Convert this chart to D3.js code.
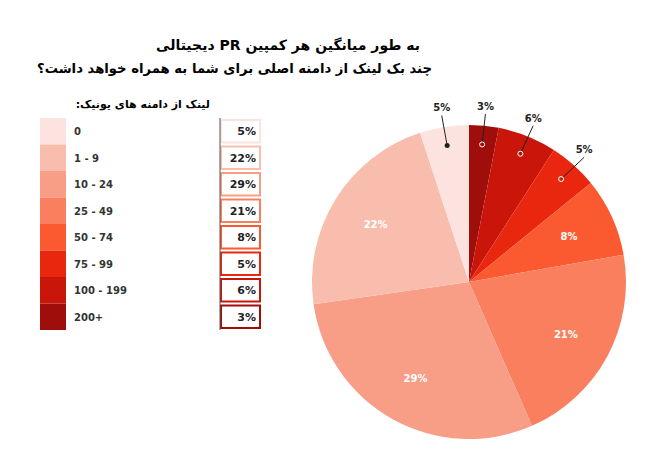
<!DOCTYPE html>
<html><head><meta charset="utf-8">
<script src="https://cdn.jsdelivr.net/npm/d3@7"></script>
<style>body{margin:0;background:#fff}text{font-family:"DejaVu Sans",sans-serif}</style>
</head><body><svg id="c" width="664" height="472"></svg>
<script>
var categories = ['0', '1 - 9', '10 - 24', '25 - 49', '50 - 74', '75 - 99', '100 - 199', '200+'];
var values = [5, 22, 29, 21, 8, 5, 6, 3];
var colors = ['#fce3df', '#f9bdae', '#f89d86', '#fa7f5f', '#fb5a31', '#e9270f', '#c9150a', '#a00e0b'];
var pieOrder = [7, 6, 5, 4, 3, 2, 1, 0];
var outside = [7, 6, 5, 0];

var svg = d3.select('#c');
// rtl text: anchor 'start' sits at the right edge
svg.append('text').attr('x', 420).attr('y', 50).attr('direction', 'rtl').attr('text-anchor', 'start')
  .attr('font-size', 14).attr('font-weight', 'bold').text('به طور میانگین هر کمپین PR دیجیتالی');
svg.append('text').attr('x', 432).attr('y', 73).attr('direction', 'rtl').attr('text-anchor', 'start')
  .attr('font-size', 13.5).attr('font-weight', 'bold').attr('textLength', 395).attr('lengthAdjust', 'spacingAndGlyphs')
  .text('چند بک لینک از دامنه اصلی برای شما به همراه خواهد داشت؟');

// legend
var y = d3.scaleBand().domain(d3.range(categories.length)).range([118, 330]).padding(0);
svg.append('text').attr('x', 210).attr('y', 108).attr('direction', 'rtl').attr('text-anchor', 'start')
  .attr('font-size', 11).attr('font-weight', 'bold').text('لینک از دامنه های یونیک:');
var rows = svg.selectAll('g.row').data(categories).enter().append('g')
  .attr('transform', function (d, i) { return 'translate(0,' + y(i) + ')'; });
rows.append('rect').attr('x', 40).attr('width', 26).attr('height', y.bandwidth())
  .attr('fill', function (d, i) { return colors[i]; });
rows.append('text').attr('x', 74).attr('y', y.bandwidth() / 2 + 4).attr('font-size', 10)
  .attr('font-weight', 'bold').attr('fill', '#333').text(function (d) { return d; });
rows.append('rect').attr('x', 221).attr('y', 2).attr('width', 39).attr('height', y.bandwidth() - 4)
  .attr('fill', '#fff').attr('stroke', function (d, i) { return colors[i]; }).attr('stroke-width', 2);
rows.append('text').attr('x', 256).attr('y', y.bandwidth() / 2 + 4).attr('text-anchor', 'end')
  .attr('font-size', 11).attr('font-weight', 'bold').attr('fill', '#222')
  .text(function (d, i) { return values[i] + '%'; });
svg.append('line').attr('x1', 220).attr('x2', 220).attr('y1', 118).attr('y2', 330).attr('stroke', '#555');

// pie
var cx = 469, cy = 282, r = 157;
var pie = d3.pie().sort(null).value(function (i) { return values[i]; });
var arcs = pie(pieOrder);
var arc = d3.arc().innerRadius(0).outerRadius(r);
var g = svg.append('g').attr('transform', 'translate(' + cx + ',' + cy + ')');
g.selectAll('path').data(arcs).enter().append('path').attr('d', arc)
  .attr('fill', function (d) { return colors[d.data]; });

var inner = d3.arc().innerRadius(r * 0.7).outerRadius(r * 0.7);
var dot = d3.arc().innerRadius(r * 0.88).outerRadius(r * 0.88);
var lab = d3.arc().innerRadius(r * 1.1).outerRadius(r * 1.1);
arcs.forEach(function (d) {
  var txt = values[d.data] + '%';
  if (outside.indexOf(d.data) >= 0) {
    var p = dot.centroid(d), q = lab.centroid(d);
    g.append('line').attr('x1', p[0]).attr('y1', p[1]).attr('x2', q[0]).attr('y2', q[1] + 4)
      .attr('stroke', '#222').attr('stroke-width', 1);
    g.append('circle').attr('cx', p[0]).attr('cy', p[1]).attr('r', 2.5)
      .attr('fill', d.data === 0 ? '#222' : 'none').attr('stroke', d.data === 0 ? 'none' : '#fff');
    g.append('text').attr('x', q[0]).attr('y', q[1]).attr('text-anchor', 'middle')
      .attr('font-size', 10).attr('font-weight', 'bold').attr('fill', '#222').text(txt);
  } else {
    var c = inner.centroid(d);
    g.append('text').attr('x', c[0]).attr('y', c[1] + 4).attr('text-anchor', 'middle')
      .attr('font-size', 10).attr('font-weight', 'bold').attr('fill', '#fff').text(txt);
  }
});
</script></body></html>
